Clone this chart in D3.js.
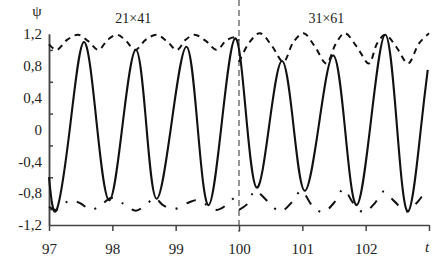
<!DOCTYPE html>
<html>
<head>
<meta charset="utf-8">
<script src="https://cdn.jsdelivr.net/npm/d3@7"></script>
<style>
  body { margin: 0; background: #fff; }
</style>
</head>
<body>
<svg id="chart" width="442" height="279" font-family="Liberation Serif"></svg>
<script>
// oscillating psi(t)
var solidPts = [[97.0,-0.60],[97.12,-1.01],[97.335,0.05],[97.55,1.10],[97.75,0.10],[97.95,-0.89],
    [98.16,0.05],[98.37,1.0],[98.535,0.07],[98.70,-0.87],[98.935,0.08],[99.17,1.04],[99.345,0.05],
    [99.52,-0.95],[99.73,0.1],[99.94,1.145],[100.11,0.2],[100.28,-0.73],[100.48,0.07],[100.68,0.86],
    [100.86,0.05],[101.04,-0.77],[101.265,0.08],[101.49,0.93],[101.675,0.0],[101.86,-0.95],
    [102.085,0.12],[102.31,1.19],[102.49,0.08],[102.67,-1.03],[102.87,0.0],[102.98,0.75]];

// upper envelope (dashed), left and right of the mesh change
var upperLeft = [[97.0,1.07],[97.12,1.0],[97.29,1.13],[97.46,1.19],[97.62,1.11],[97.78,1.0],
    [97.93,1.13],[98.08,1.19],[98.22,1.11],[98.36,1.0],[98.53,1.13],[98.70,1.19],[98.86,1.11],
    [99.02,1.0],[99.16,1.13],[99.30,1.19],[99.48,1.11],[99.65,1.0],[99.80,1.12],[99.94,1.16],[100.0,1.12]];
var upperRight = [[100.0,0.85],[100.17,1.1],[100.33,1.21],[100.52,1.05],[100.70,0.85],[100.86,1.1],
    [101.02,1.21],[101.2,1.04],[101.38,0.83],[101.53,1.08],[101.67,1.21],[101.86,1.04],[102.05,0.83],
    [102.18,1.08],[102.31,1.19],[102.49,1.03],[102.67,0.83],[102.84,1.08],[103.0,1.21]];

// lower envelope (dash-dot)
var lowerLeft = [[97.0,-0.97],[97.12,-1.01],[97.33,-0.89],[97.5,-0.93],[97.66,-1.01],[97.82,-0.95],
    [97.98,-0.86],[98.17,-0.93],[98.37,-1.02],[98.55,-0.93],[98.67,-0.86],[98.8,-0.95],[98.97,-1.0],
    [99.2,-0.92],[99.32,-0.89],[99.45,-0.93],[99.65,-1.01],[99.8,-0.95],[99.93,-0.86],[100.0,-0.88]];
var lowerRight = [[100.0,-1.01],[100.14,-0.93],[100.25,-0.77],[100.45,-0.9],[100.65,-1.03],[100.85,-0.9],
    [100.98,-0.77],[101.17,-0.97],[101.33,-1.04],[101.5,-0.92],[101.65,-0.75],[101.8,-0.92],[101.97,-1.04],
    [102.14,-0.93],[102.28,-0.78],[102.45,-0.9],[102.64,-1.03],[102.82,-0.91],[102.96,-0.78],[103.0,-0.8]];

var xTicks = [97, 98, 99, 100, 101, 102, 103];
var xLabels = ["97", "98", "99", "100", "101", "102", ""];
var yLabelVals = [1.2, 0.8, 0.4, 0, -0.4, -0.8, -1.2];
var yLabels = ["1,2", "0,8", "0,4", "0", "-0,4", "-0,8", "-1,2"];
var yMinorTicks = [1.0, 0.6, 0.2, -0.2, -0.6, -1.0];
var meshLabels = [{t: 98.33, text: "21×41"}, {t: 101.38, text: "31×61"}];
var splitT = 100;
var serif = "Liberation Serif";

var svg = d3.select("#chart");

var x = d3.scaleLinear().domain([97, 103]).range([49, 429]);
var y = d3.scaleLinear().domain([-1.2, 1.2]).range([225, 34]);

// mesh switch marker
svg.append("line")
    .attr("x1", x(splitT)).attr("x2", x(splitT))
    .attr("y1", 0).attr("y2", 232)
    .attr("stroke", "#8a8a8a")
    .attr("stroke-width", 1.8)
    .attr("stroke-dasharray", "6,4");

// axes
var xAxis = d3.axisBottom(x)
    .tickValues(xTicks)
    .tickFormat((d, i) => xLabels[i])
    .tickSizeInner(6).tickSizeOuter(0).tickPadding(4);
var gx = svg.append("g")
    .attr("transform", "translate(0," + y(-1.2) + ")")
    .call(xAxis);

var gy = svg.append("g")
    .attr("transform", "translate(" + x(97) + ",0)")
    .call(d3.axisLeft(y).tickValues(yLabelVals)
        .tickFormat((d, i) => yLabels[i])
        .tickSize(0).tickPadding(7));

svg.append("g")
    .attr("transform", "translate(" + x(97) + ",0)")
    .call(d3.axisLeft(y).tickValues(yMinorTicks).tickFormat("")
        .tickSizeInner(-4).tickSizeOuter(0));

gx.attr("font-family", serif).attr("font-size", 15);
gy.attr("font-family", serif).attr("font-size", 15);
svg.selectAll(".domain").attr("stroke", "#444").attr("stroke-width", 1.5);
svg.selectAll(".tick line").attr("stroke", "#444").attr("stroke-width", 1.5);
svg.selectAll(".tick text")
    .attr("font-family", serif)
    .attr("fill", "#222");
gx.selectAll(".tick text").attr("dy", "1.25em");

// curves
var line = d3.line()
    .x(d => x(d[0]))
    .y(d => y(d[1]));

svg.append("path")
    .datum(solidPts)
    .attr("d", line.curve(d3.curveNatural))
    .attr("fill", "none")
    .attr("stroke", "#111")
    .attr("stroke-width", 2.1);

[upperLeft, upperRight].forEach(function (pts) {
    svg.append("path")
        .datum(pts)
        .attr("d", line.curve(d3.curveCatmullRom.alpha(0.5)))
        .attr("fill", "none")
        .attr("stroke", "#111")
        .attr("stroke-width", 2)
        .attr("stroke-dasharray", "6,5");
});

[lowerLeft, lowerRight].forEach(function (pts) {
    svg.append("path")
        .datum(pts)
        .attr("d", line.curve(d3.curveCatmullRom.alpha(0.5)))
        .attr("fill", "none")
        .attr("stroke", "#111")
        .attr("stroke-width", 2)
        .attr("stroke-dasharray", "10,10,2,10");
});

// annotations
svg.append("text")
    .attr("x", 37).attr("y", 16)
    .attr("text-anchor", "middle")
    .attr("font-family", serif)
    .attr("font-size", 15)
    .attr("fill", "#222")
    .text("ψ");

svg.selectAll(".mesh")
    .data(meshLabels)
    .enter().append("text")
    .attr("class", "mesh")
    .attr("x", d => x(d.t))
    .attr("y", 23)
    .attr("text-anchor", "middle")
    .attr("font-family", serif)
    .attr("font-size", 14)
    .attr("fill", "#222")
    .text(d => d.text);

svg.append("text")
    .attr("x", x(103) - 2).attr("y", 252)
    .attr("text-anchor", "middle")
    .attr("font-family", serif)
    .attr("font-size", 15)
    .attr("font-style", "italic")
    .attr("fill", "#222")
    .text("t");
</script>
</body>
</html>
